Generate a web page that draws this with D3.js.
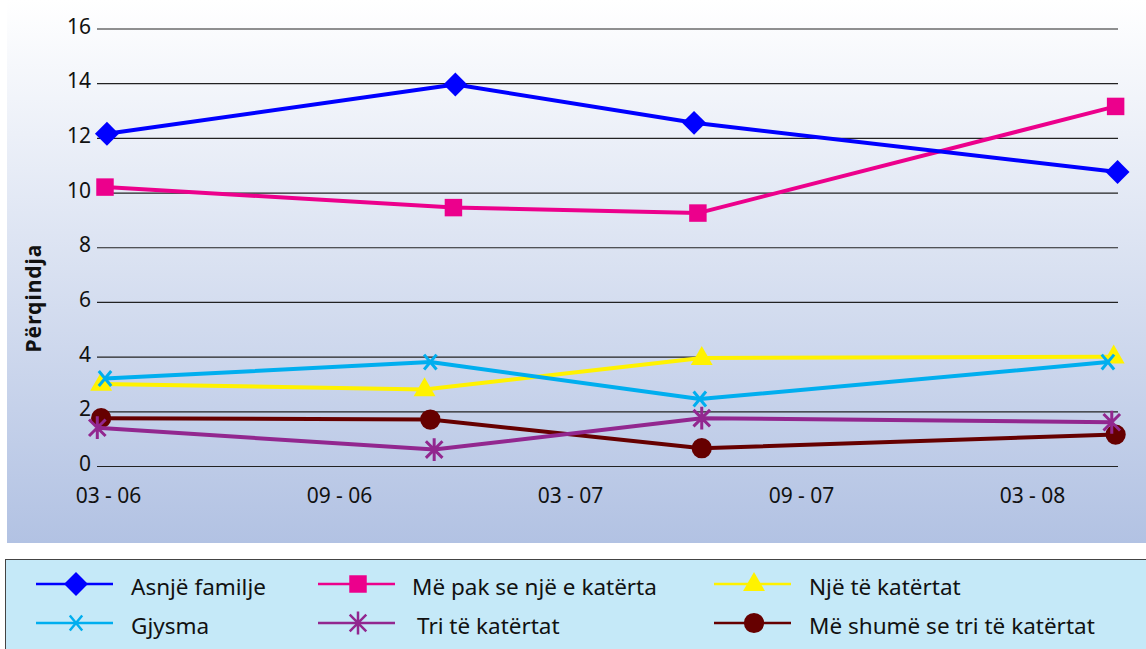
<!DOCTYPE html>
<head>
  <meta charset="utf-8">
  <title>Përqindja</title>
  <script src="https://d3js.org/d3.v7.min.js"></script>
</head>
<body style="margin:0;background:#fff">
  <script>
    // months since 03-2006 for every point, read per series from the picture
    var tickMonths = [0, 6, 12, 18, 24];
    var tickLabels = ['03 - 06', '09 - 06', '03 - 07', '09 - 07', '03 - 08'];
    var yTicks = [0, 2, 4, 6, 8, 10, 12, 14, 16];

    var seriesNames = ['Asnjë familje', 'Më pak se një e katërta', 'Një të katërtat',
                       'Gjysma', 'Tri të katërtat', 'Më shumë se tri të katërtat'];
    var seriesColors = ['#0000ff', '#ec008c', '#fff200', '#00aeef', '#92278f', '#660000'];
    var seriesSymbols = ['diamond', 'square', 'triangle', 'x', 'star', 'circle'];

    var asnjeMonths = [0.05, 9.1, 15.3, 26.3];
    var asnje = [12.15, 13.95, 12.55, 10.75];
    var pakMonths = [0, 9.05, 15.4, 26.25];
    var pak = [10.2, 9.45, 9.25, 13.15];
    var njeMonths = [-0.1, 8.3, 15.5, 26.2];
    var nje = [3.0, 2.8, 3.95, 4.0];
    var gjysmaMonths = [0, 8.45, 15.45, 26.05];
    var gjysma = [3.2, 3.8, 2.45, 3.8];
    var triMonths = [-0.2, 8.55, 15.5, 26.15];
    var tri = [1.4, 0.6, 1.75, 1.6];
    var shumeMonths = [-0.1, 8.45, 15.5, 26.25];
    var shume = [1.75, 1.7, 0.65, 1.15];

    var allMonths = [asnjeMonths, pakMonths, njeMonths, gjysmaMonths, triMonths, shumeMonths];
    var allValues = [asnje, pak, nje, gjysma, tri, shume];

    var width = 1146;
    var height = 649;

    var svg = d3.select('body').append('svg').attr('width', width).attr('height', height)
      .style('font-family', '"Noto Sans", sans-serif');

    var defs = svg.append('defs');
    var grad = defs.append('linearGradient').attr('id', 'bg').attr('x1', 0).attr('y1', 0).attr('x2', 0).attr('y2', 1);
    grad.append('stop').attr('offset', '0%').attr('stop-color', '#ffffff');
    grad.append('stop').attr('offset', '100%').attr('stop-color', '#b2c2e3');

    svg.append('rect').attr('x', 7).attr('y', 0).attr('width', width - 7).attr('height', 543)
      .attr('fill', 'url(#bg)');

    var xscale = d3.scaleLinear().domain([0, 24]).range([105, 1029]);
    var yscale = d3.scaleLinear().domain([0, 16]).range([466, 28.5]);

    // gridlines + y labels
    var axisy = d3.axisLeft(yscale).tickValues(yTicks).tickSize(-(1118 - 97)).tickPadding(6);
    var gy = svg.append('g').attr('transform', 'translate(97,0)').call(axisy);
    gy.select('.domain').remove();
    gy.selectAll('.tick line').attr('stroke', '#222').attr('stroke-width', 1.2);
    gy.selectAll('.tick text').attr('font-size', 21).attr('fill', '#111').attr('dy', '0.22em')
      .style('font-family', '"Noto Sans", sans-serif');

    var axisx = d3.axisBottom(xscale).tickValues(tickMonths)
      .tickFormat(function(d, i) { return tickLabels[i]; }).tickSize(0).tickPadding(0);
    var gx = svg.append('g').attr('transform', 'translate(3,488)').call(axisx);
    gx.select('.domain').remove();
    gx.selectAll('.tick text').attr('font-size', 21).attr('fill', '#111')
      .style('font-family', '"Noto Sans", sans-serif');

    svg.append('text').attr('transform', 'translate(41,298) rotate(-90)')
      .attr('text-anchor', 'middle').attr('font-size', 21).attr('font-weight', 'bold')
      .attr('letter-spacing', 1).attr('fill', '#111').text('Përqindja');

    function markerPath(type, s) {
      var h;
      if (type === 'diamond') { h = s * 0.52; return 'M0,' + (-h) + 'L' + h + ',0L0,' + h + 'L' + (-h) + ',0Z'; }
      if (type === 'square') { h = s * 0.38; return 'M' + (-h) + ',' + (-h) + 'H' + h + 'V' + h + 'H' + (-h) + 'Z'; }
      if (type === 'triangle') { h = s * 0.5; return 'M0,' + (-h * 1.05) + 'L' + h * 0.95 + ',' + h * 0.6 + 'L' + (-h * 0.95) + ',' + h * 0.6 + 'Z'; }
      if (type === 'circle') { return d3.symbol(d3.symbolCircle, Math.PI * (s * 0.44) * (s * 0.44))(); }
      if (type === 'x') { h = s * 0.27; return 'M' + (-h) + ',' + (-h * 1.2) + 'L' + h + ',' + (h * 1.2) + 'M' + h + ',' + (-h * 1.2) + 'L' + (-h) + ',' + (h * 1.2); }
      if (type === 'star') { h = s * 0.45; var q = h * 0.8; return 'M0,' + (-h * 1.1) + 'V' + (h * 1.1) + 'M' + (-q) + ',' + (-q) + 'L' + q + ',' + q + 'M' + q + ',' + (-q) + 'L' + (-q) + ',' + q; }
    }
    function isStroke(type) { return type === 'x' || type === 'star'; }

    var line = d3.line().x(function(d) { return xscale(d[0]); }).y(function(d) { return yscale(d[1]); });

    // draw lower series first so the top ones overlay as in the picture
    var order = [5, 4, 2, 3, 1, 0];
    order.forEach(function(k) {
      var pts = allMonths[k].map(function(m, i) { return [m, allValues[k][i]]; });
      var g = svg.append('g');
      g.append('path').attr('d', line(pts)).attr('fill', 'none')
        .attr('stroke', seriesColors[k]).attr('stroke-width', 4).attr('stroke-linejoin', 'round');
      g.selectAll('.mk').data(pts).enter().append('path')
        .attr('transform', function(d) { return 'translate(' + xscale(d[0]) + ',' + yscale(d[1]) + ')'; })
        .attr('d', markerPath(seriesSymbols[k], 23))
        .attr('fill', isStroke(seriesSymbols[k]) ? 'none' : seriesColors[k])
        .attr('stroke', isStroke(seriesSymbols[k]) ? seriesColors[k] : 'none')
        .attr('stroke-width', 3);
    });

    // legend
    svg.append('rect').attr('x', 5.5).attr('y', 559.5).attr('width', width).attr('height', 95)
      .attr('fill', '#c5e9f8').attr('stroke', '#444').attr('stroke-width', 1);

    var legCols = [36, 318, 714];
    var legRows = [584, 623];
    var legTextDx = [95, 94, 95, 95, 99, 95];
    seriesNames.forEach(function(name, k) {
      var col = k % 3, row = Math.floor(k / 3);
      var x0 = legCols[col], y0 = legRows[row];
      var g = svg.append('g').attr('transform', 'translate(' + x0 + ',' + y0 + ')');
      g.append('line').attr('x1', 0).attr('x2', 77).attr('stroke', seriesColors[k]).attr('stroke-width', 2.5);
      g.append('path').attr('transform', 'translate(40,0)')
        .attr('d', markerPath(seriesSymbols[k], 23))
        .attr('fill', isStroke(seriesSymbols[k]) ? 'none' : seriesColors[k])
        .attr('stroke', isStroke(seriesSymbols[k]) ? seriesColors[k] : 'none')
        .attr('stroke-width', 2.5);
      g.append('text').attr('x', legTextDx[k]).attr('y', 3).attr('dy', '0.35em')
        .attr('font-size', 22.5).attr('fill', '#111').text(name);
    });
  </script>
</body>
